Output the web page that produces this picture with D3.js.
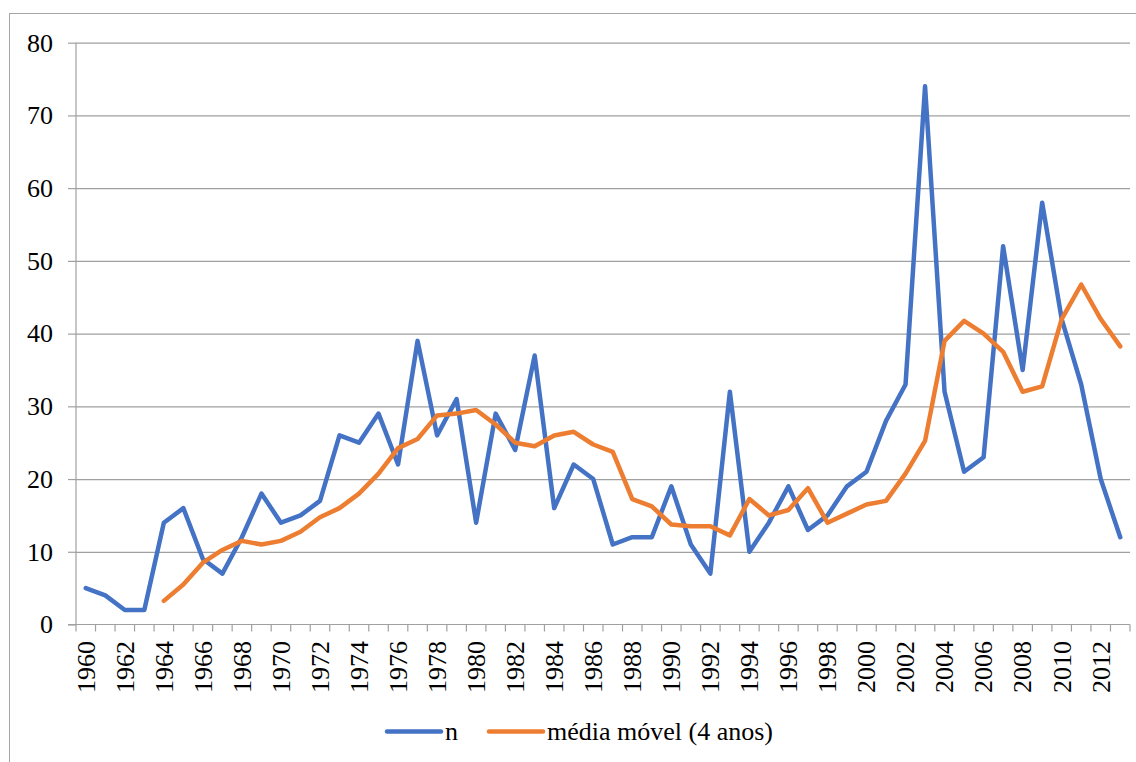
<!DOCTYPE html>
<html>
<head>
<meta charset="utf-8">
<script src="https://cdn.jsdelivr.net/npm/d3@7"></script>
<style>
  html, body { margin: 0; padding: 0; background: #fff; }
  svg { display: block; }
</style>
</head>
<body>
<svg id="chart" width="1136" height="762"></svg>
<script>
// ---- data ----
const years = [1960,1961,1962,1963,1964,1965,1966,1967,1968,1969,
  1970,1971,1972,1973,1974,1975,1976,1977,1978,1979,
  1980,1981,1982,1983,1984,1985,1986,1987,1988,1989,
  1990,1991,1992,1993,1994,1995,1996,1997,1998,1999,
  2000,2001,2002,2003,2004,2005,2006,2007,2008,2009,
  2010,2011,2012,2013];
const nValues = [5,4,2,2,14,16,9,7,12,18,
  14,15,17,26,25,29,22,39,26,31,
  14,29,24,37,16,22,20,11,12,12,
  19,11,7,32,10,14,19,13,15,19,
  21,28,33,74,32,21,23,52,35,58,
  42,33,20,12];
// moving average values (first 4 years have none)
const maYears = years.slice(4);
const maValues = [3.25,5.5,8.5,10.25,11.5,11,
  11.5,12.75,14.75,16,18,20.75,24.25,25.5,28.75,29,
  29.5,27.5,25,24.5,26,26.5,24.75,23.75,17.25,16.25,
  13.75,13.5,13.5,12.25,17.25,15,15.75,18.75,14,15.25,
  16.5,17,20.75,25.25,39,41.75,40,37.5,32,32.75,
  42,46.75,42,38.25];
const yTicks = [0,10,20,30,40,50,60,70,80];
const xLabelYears = years.filter((d,i) => i % 2 === 0);
const seriesNames = ["n", "média móvel (4 anos)"];
const colors = ["#4472C4", "#ED7D31"];

// ---- layout ----
const svg = d3.select("#chart");
const pLeft = 76, pRight = 1130, pTop = 42.7, pBottom = 624.5;
const fontSize = 26;
const FONT = "'Liberation Serif', 'Times New Roman', Tinos, 'DejaVu Serif', serif";

// outer frame
svg.append("rect").attr("x", 9.5).attr("y", 13.5).attr("width", 1140).attr("height", 760)
  .attr("fill", "none").attr("stroke", "#a6a6a6").attr("stroke-width", 1);

const x = d3.scaleBand().domain(years).range([pLeft, pRight]).paddingInner(0).paddingOuter(0);
const cx = d => x(d) + x.bandwidth() / 2;
const y = d3.scaleLinear().domain([0, 80]).range([pBottom, pTop]);

// y tick marks + labels
const yAxis = d3.axisLeft(y).tickValues(yTicks).tickSize(8).tickPadding(15).tickFormat(d3.format("d"));
const gy = svg.append("g").attr("transform", `translate(${pLeft},0)`).call(yAxis);
gy.attr("font-family", null).attr("font-size", null);
gy.select(".domain").remove();
gy.selectAll(".tick line").attr("stroke", "#a0a0a0").attr("stroke-width", 1.2);
gy.selectAll(".tick text").style("font-family", FONT).style("font-size", fontSize + "px").attr("fill", "#000");

// gridlines
const grid = svg.append("g").attr("transform", `translate(${pLeft},0)`)
  .call(d3.axisLeft(y).tickValues(yTicks.filter(d => d > 0)).tickSize(-(pRight - pLeft)).tickFormat(""));
grid.select(".domain").remove();
grid.selectAll(".tick line").attr("stroke", "#a0a0a0").attr("stroke-width", 1.2);

// y axis line
svg.append("line").attr("x1", pLeft).attr("x2", pLeft).attr("y1", pTop).attr("y2", pBottom)
  .attr("stroke", "#a0a0a0").attr("stroke-width", 1.2);

// x axis line and boundary ticks
svg.append("line").attr("x1", pLeft - 8).attr("x2", pRight).attr("y1", pBottom).attr("y2", pBottom)
  .attr("stroke", "#a0a0a0").attr("stroke-width", 1.2);
const edges = years.map(d => x(d)).concat([x(years[years.length - 1]) + x.bandwidth()]);
svg.append("g").selectAll("line").data(edges).join("line")
  .attr("x1", d => d).attr("x2", d => d).attr("y1", pBottom).attr("y2", pBottom + 7)
  .attr("stroke", "#a0a0a0").attr("stroke-width", 1.2);

// x labels
svg.append("g").selectAll("text").data(xLabelYears).join("text")
  .attr("transform", d => `translate(${cx(d)},641) rotate(-90)`)
  .attr("text-anchor", "end").attr("dy", "0.34em")
  .style("font-family", FONT).style("font-size", fontSize + "px").attr("fill", "#000")
  .text(d => d);

// lines
const lineGen = d3.line().x(d => cx(d[0])).y(d => y(d[1]));
svg.append("path").datum(years.map((d, i) => [d, nValues[i]]))
  .attr("d", lineGen).attr("fill", "none").attr("stroke", colors[0])
  .attr("stroke-width", 4.5).attr("stroke-linejoin", "round").attr("stroke-linecap", "round");
svg.append("path").datum(maYears.map((d, i) => [d, maValues[i]]))
  .attr("d", lineGen).attr("fill", "none").attr("stroke", colors[1])
  .attr("stroke-width", 4.5).attr("stroke-linejoin", "round").attr("stroke-linecap", "round");

// legend
const legendItems = [
  { name: seriesNames[0], color: colors[0], x0: 387 },
  { name: seriesNames[1], color: colors[1], x0: 489 }
];
const lg = svg.append("g");
legendItems.forEach(it => {
  lg.append("line").attr("x1", it.x0).attr("x2", it.x0 + 54).attr("y1", 731.5).attr("y2", 731.5)
    .attr("stroke", it.color).attr("stroke-width", 4.5).attr("stroke-linecap", "round");
  lg.append("text").attr("x", it.x0 + 58).attr("y", 740)
    .style("font-family", FONT).style("font-size", fontSize + "px").attr("fill", "#000")
    .text(it.name);
});
</script>
</body>
</html>
